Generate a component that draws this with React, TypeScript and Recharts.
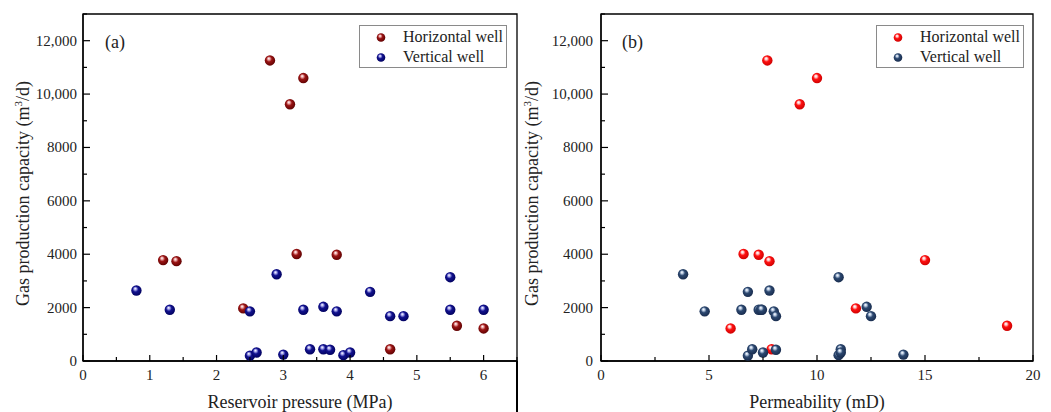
import React from 'react';
import { ScatterChart, Scatter, XAxis, YAxis, ReferenceArea, Legend } from 'recharts';

// ---- Data (same wells in both panels) ----
const horizontalCapacity = [11260, 10600, 9620, 3780, 3740, 4010, 3980, 1970, 440, 1320, 1220];
const horizontalPressure = [2.8, 3.3, 3.1, 1.2, 1.4, 3.2, 3.8, 2.4, 4.6, 5.6, 6.0];
const horizontalPermeability = [7.7, 10.0, 9.2, 15.0, 7.8, 6.6, 7.3, 11.8, 7.9, 18.8, 6.0];

const verticalCapacity = [2640, 1920, 3250, 1860, 1920, 2030, 1860, 2590, 1680, 1680, 3140, 1920, 1920, 200, 320, 240, 440, 440, 420, 220, 320];
const verticalPressure = [0.8, 1.3, 2.9, 2.5, 3.3, 3.6, 3.8, 4.3, 4.6, 4.8, 5.5, 5.5, 6.0, 2.5, 2.6, 3.0, 3.4, 3.6, 3.7, 3.9, 4.0];
const verticalPermeability = [7.8, 6.5, 3.8, 4.8, 7.3, 12.3, 8.0, 6.8, 8.1, 12.5, 11.0, 7.4, 7.45, 6.8, 7.5, 14.0, 7.0, 11.1, 8.1, 11.0, 11.1];

const capacityTicks = [0, 1000, 2000, 3000, 4000, 5000, 6000, 7000, 8000, 9000, 10000, 11000, 12000, 13000];
const capacityLabels: Record<number, string> = { 0: '0', 2000: '2000', 4000: '4000', 6000: '6000', 8000: '8000', 10000: '10,000', 12000: '12,000' };
const pressureTicks = [0, 0.5, 1, 1.5, 2, 2.5, 3, 3.5, 4, 4.5, 5, 5.5, 6, 6.5];
const permeabilityTicks = [0, 2.5, 5, 7.5, 10, 12.5, 15, 17.5, 20];

const seriesNames = ['Horizontal well', 'Vertical well'];

const FONT = '"Liberation Serif", "Times New Roman", serif';

const zip = (xs: number[], ys: number[]) => xs.map((x, i) => ({ x, y: ys[i] }));

type BallColors = { id: string; light: string; base: string; dark: string };
const leftH: BallColors = { id: 'lh', light: '#f0b0b0', base: '#9a1414', dark: '#5a0000' };
const leftV: BallColors = { id: 'lv', light: '#b0b0f0', base: '#12128f', dark: '#00005a' };
const rightH: BallColors = { id: 'rh', light: '#ffd0d0', base: '#ff1010', dark: '#c80000' };
const rightV: BallColors = { id: 'rv', light: '#c0d0e6', base: '#2c4870', dark: '#16294a' };

const Grad = ({ c }: { c: BallColors }) => (
  <defs>
    <radialGradient id={`ball-${c.id}`} cx="45%" cy="45%" r="60%" fx="38%" fy="30%">
      <stop offset="0%" stopColor="#ffffff" />
      <stop offset="18%" stopColor={c.light} />
      <stop offset="45%" stopColor={c.base} />
      <stop offset="100%" stopColor={c.dark} />
    </radialGradient>
  </defs>
);

const makeBall = (c: BallColors, r: number) => (props: any) => {
  const { cx, cy } = props;
  if (cx == null || cy == null) return <g />;
  return (
    <g>
      <Grad c={c} />
      <circle cx={cx} cy={cy} r={r} fill={`url(#ball-${c.id})`} />
    </g>
  );
};

const makeXTick = (majorStep: number) => (props: any) => {
  const { x, y, payload } = props;
  const v = payload.value as number;
  const major = Math.abs(v / majorStep - Math.round(v / majorStep)) < 1e-6;
  return (
    <g>
      <line x1={x} x2={x} y1={y} y2={y - (major ? 6 : 4)} stroke="#000" strokeWidth={1.2} />
      {major && (
        <text x={x} y={y + 19} textAnchor="middle" fontFamily={FONT} fontSize={15} fill="#222">
          {v}
        </text>
      )}
    </g>
  );
};

const makeYTick = (gap: number) => (props: any) => {
  const { x, y, payload } = props;
  const v = payload.value as number;
  const label = capacityLabels[v];
  const major = label !== undefined;
  return (
    <g>
      <line x1={x} x2={x + (major ? 7 : 4)} y1={y} y2={y} stroke="#000" strokeWidth={1.2} />
      {major && (
        <text x={x - gap} y={y + 5} textAnchor="end" fontFamily={FONT} fontSize={15} fill="#222">
          {label}
        </text>
      )}
    </g>
  );
};

const XTitle = (text: string) => (props: any) => {
  const vb = props.viewBox || {};
  return (
    <text x={vb.x + vb.width / 2} y={vb.y + 47} textAnchor="middle" fontFamily={FONT} fontSize={18} fill="#222">
      {text}
    </text>
  );
};

const YTitle = (bx: number) => (props: any) => {
  const vb = props.viewBox || {};
  const cy = vb.y + vb.height / 2 + 6;
  return (
    <text transform={`translate(${bx},${cy}) rotate(-90)`} textAnchor="middle" fontFamily={FONT} fontSize={18} fill="#222">
      Gas production capacity (m
      <tspan dy={-7} fontSize={11}>3</tspan>
      <tspan dy={7}>/d)</tspan>
    </text>
  );
};

const LegendBox = ({ colors }: { colors: BallColors[] }) => (
  <div
    style={{
      width: 148,
      height: 43,
      boxSizing: 'border-box',
      border: '1px solid #8a8a8a',
      fontFamily: FONT,
      fontSize: 16,
      color: '#222',
      position: 'relative',
      background: '#fff',
    }}
  >
    {seriesNames.map((name, i) => (
      <div key={name} style={{ position: 'absolute', left: 0, top: i === 0 ? 2 : 22, height: 18, width: 146 }}>
        <svg width={20} height={18} style={{ position: 'absolute', left: 12, top: 0 }}>
          <Grad c={{ ...colors[i], id: colors[i].id + 'L' }} />
          <circle cx={9} cy={9.5} r={4.3} fill={`url(#ball-${colors[i].id}L)`} />
        </svg>
        <span style={{ position: 'absolute', left: 43, top: 0, lineHeight: '18px', whiteSpace: 'nowrap' }}>{name}</span>
      </div>
    ))}
  </div>
);

type PanelProps = {
  width: number;
  marginRight: number;
  yAxisWidth: number;
  yTitleX: number;
  tickGap: number;
  xDomain: [number, number];
  xTicks: number[];
  majorStep: number;
  xTitle: string;
  hData: { x: number; y: number }[];
  vData: { x: number; y: number }[];
  hColor: BallColors;
  vColor: BallColors;
  legendLeft: number;
};

const Panel = (p: PanelProps) => (
  <ScatterChart width={p.width} height={412} margin={{ top: 14, right: p.marginRight, bottom: 0, left: 0 }}>
    <XAxis
      type="number"
      dataKey="x"
      domain={p.xDomain}
      ticks={p.xTicks}
      interval={0}
      allowDataOverflow
      tickLine={false}
      tickSize={0}
      tickMargin={0}
      height={51}
      axisLine={{ stroke: '#000', strokeWidth: 1.3 }}
      tick={makeXTick(p.majorStep)}
      label={{ content: XTitle(p.xTitle) } as any}
    />
    <YAxis
      type="number"
      dataKey="y"
      domain={[0, 13000]}
      ticks={capacityTicks}
      interval={0}
      allowDataOverflow
      tickLine={false}
      tickSize={0}
      tickMargin={0}
      width={p.yAxisWidth}
      axisLine={{ stroke: '#000', strokeWidth: 1.3 }}
      tick={makeYTick(p.tickGap)}
      label={{ content: YTitle(p.yTitleX) } as any}
    />
    <ReferenceArea
      x1={p.xDomain[0]}
      x2={p.xDomain[1]}
      y1={0}
      y2={13000}
      fill="none"
      fillOpacity={0}
      stroke="#000"
      strokeWidth={1.3}
      strokeOpacity={1}
      ifOverflow="visible"
    />
    <Legend
      layout="horizontal"
      verticalAlign="middle"
      align="center"
      wrapperStyle={{ left: p.legendLeft, top: 25, width: 148, height: 43 }}
      content={() => <LegendBox colors={[p.hColor, p.vColor]} />}
    />
    <Scatter name={seriesNames[0]} data={p.hData} isAnimationActive={false} shape={makeBall(p.hColor, 5.2)} fill={p.hColor.base} />
    <Scatter name={seriesNames[1]} data={p.vData} isAnimationActive={false} shape={makeBall(p.vColor, 5.2)} fill={p.vColor.base} />
  </ScatterChart>
);

export default function App() {
  return (
    <div style={{ position: 'absolute', left: 0, top: 0, width: 1051, height: 412, background: '#fff', overflow: 'hidden' }}>
      <div style={{ position: 'absolute', left: 0, top: 0 }}>
        <Panel
          width={520}
          marginRight={3}
          yAxisWidth={83}
          yTitleX={29}
          tickGap={6}
          xDomain={[0, 6.5]}
          xTicks={pressureTicks}
          majorStep={1}
          xTitle="Reservoir pressure (MPa)"
          hData={zip(horizontalPressure, horizontalCapacity)}
          vData={zip(verticalPressure, verticalCapacity)}
          hColor={leftH}
          vColor={leftV}
          legendLeft={359}
        />
      </div>
      <div style={{ position: 'absolute', left: 520, top: 0 }}>
        <Panel
          width={531}
          marginRight={18}
          yAxisWidth={81}
          yTitleX={18}
          tickGap={8}
          xDomain={[0, 20]}
          xTicks={permeabilityTicks}
          majorStep={5}
          xTitle="Permeability (mD)"
          hData={zip(horizontalPermeability, horizontalCapacity)}
          vData={zip(verticalPermeability, verticalCapacity)}
          hColor={rightH}
          vColor={rightV}
          legendLeft={356}
        />
      </div>
      <div style={{ position: 'absolute', left: 516, top: 361, width: 1.5, height: 51, background: '#000' }} />
      <div style={{ position: 'absolute', left: 105, top: 33, fontFamily: FONT, fontSize: 18, lineHeight: '18px', color: '#222' }}>(a)</div>
      <div style={{ position: 'absolute', left: 622, top: 33, fontFamily: FONT, fontSize: 18, lineHeight: '18px', color: '#222' }}>(b)</div>
    </div>
  );
}
